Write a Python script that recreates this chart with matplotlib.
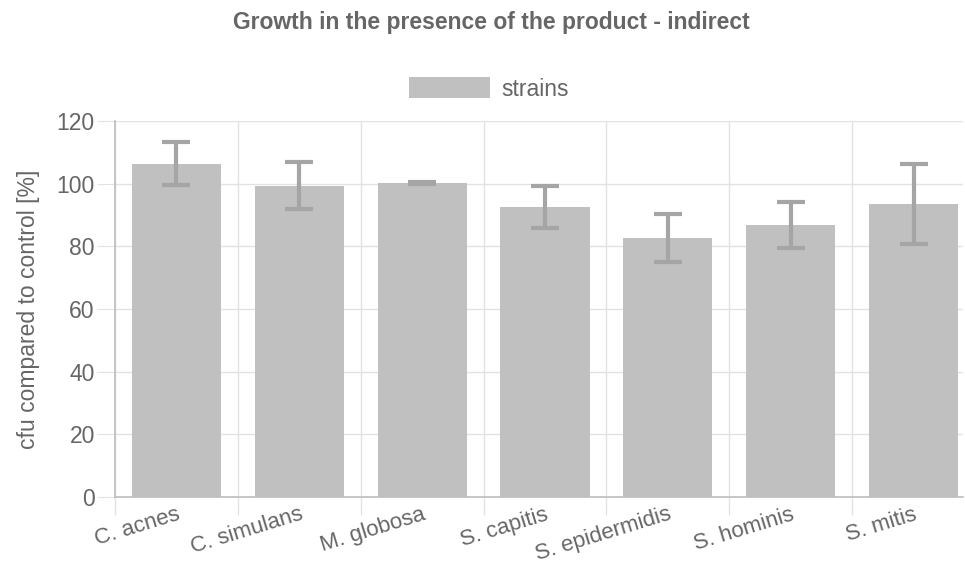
import matplotlib
matplotlib.use("Agg")
import matplotlib.pyplot as plt
import numpy as np

strains = ['C. acnes', 'C. simulans', 'M. globosa', 'S. capitis',
           'S. epidermidis', 'S. hominis', 'S. mitis']
growth = [106.4, 99.4, 100.2, 92.6, 82.6, 86.7, 93.6]
error = [6.8, 7.6, 0.3, 6.7, 7.7, 7.3, 12.8]

plt.rcParams['font.family'] = ['Liberation Sans', 'DejaVu Sans']
text_col = '#666666'
grid_col = '#e2e2e2'
fs = 16.5

fig = plt.figure(figsize=(9.65, 5.71), dpi=100)
ax = fig.add_axes([115 / 965, 1 - 497 / 571, (963 - 115) / 965, (497 - 121) / 571])

x = np.arange(len(strains))
ax.bar(x, growth, width=0.725, color='#c0c0c0', label='strains', zorder=2)
ax.errorbar(x, growth, yerr=error, fmt='none', ecolor='#a5a5a5',
            elinewidth=3, capsize=10, capthick=3, zorder=3)

ax.set_xlim(-0.5, 6.5 - 12 / 122.7)
ax.set_ylim(0, 120)
ax.set_yticks(range(0, 121, 20))
ax.set_xticks(x)
ax.set_xticklabels(strains, rotation=17, ha='right', va='top', rotation_mode='anchor',
                   fontsize=16, color=text_col)
ax.set_xticks(np.arange(len(strains)) - 0.5, minor=True)
ax.tick_params(axis='x', which='major', length=0, pad=5)
ax.tick_params(axis='x', which='minor', length=13, color=grid_col, width=1)
ax.tick_params(axis='y', length=13, color=grid_col, labelsize=fs,
               labelcolor=text_col, pad=1.5)
ax.grid(True, axis='y', color=grid_col, linewidth=1, zorder=0)
ax.grid(True, axis='x', which='minor', color=grid_col, linewidth=1, zorder=0)
ax.set_axisbelow(True)
for s in ['top', 'right']:
    ax.spines[s].set_visible(False)
for s in ['left', 'bottom']:
    ax.spines[s].set_color('#bdbdbd')
    ax.spines[s].set_linewidth(1.2)

ax.set_ylabel('cfu compared to control [%]', fontsize=fs, color=text_col, labelpad=12)

fig.text(491 / 965, 1 - 23 / 571, 'Growth in the presence of the product - indirect',
         ha='center', va='center', fontsize=fs, fontweight='bold', color=text_col)
fig.legend(loc='center', bbox_to_anchor=(489 / 965, 1 - 89 / 571), frameon=False,
           fontsize=fs, handlelength=3.5, handleheight=1.0, handletextpad=0.5,
           labelcolor=text_col)

fig.savefig('out.png', dpi=100)
